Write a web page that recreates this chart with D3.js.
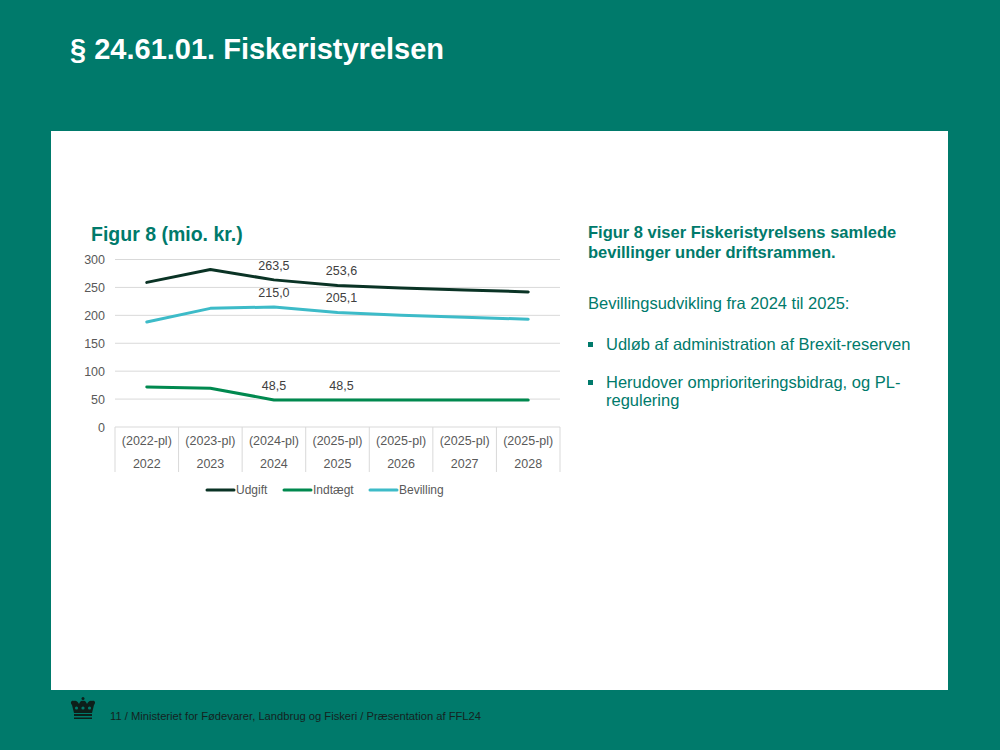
<!DOCTYPE html>
<html>
<head>
<meta charset="utf-8">
<script src="https://cdn.jsdelivr.net/npm/d3@7"></script>
<style>
  body { margin: 0; padding: 0; }
  svg { display: block; font-family: Arial, "Liberation Sans", sans-serif; }
</style>
</head>
<body>
<svg id="chart"></svg>
<script>
// data
var years    = ["2022", "2023", "2024", "2025", "2026", "2027", "2028"];
var plLabels = ["(2022-pl)", "(2023-pl)", "(2024-pl)", "(2025-pl)", "(2025-pl)", "(2025-pl)", "(2025-pl)"];
var udgift    = [259, 282, 263.5, 253.6, 249, 245.5, 242];
var indtaegt  = [71.5, 69.5, 48.5, 48.5, 48.5, 48.5, 48.5];
var bevilling = [188, 212.5, 215.0, 205.1, 200, 196.5, 193];
var yTicks = [0, 50, 100, 150, 200, 250, 300];
var labelIdx = [2, 3]; // points with data labels
var seriesNames = ["Udgift", "Indtægt", "Bevilling"];

var screen = { width: 1000, height: 750 };
var teal = "#007a6b";

var svg = d3.select("#chart")
  .attr("width", screen.width)
  .attr("height", screen.height);

// slide background
svg.append("rect")
  .attr("width", screen.width).attr("height", screen.height)
  .attr("fill", teal);

svg.append("text")
  .text("§ 24.61.01. Fiskeristyrelsen")
  .attr("x", 70).attr("y", 59)
  .attr("font-size", 29).attr("font-weight", "bold")
  .attr("fill", "white");

// white content panel
svg.append("rect")
  .attr("x", 51).attr("y", 131)
  .attr("width", 897).attr("height", 559)
  .attr("fill", "white");

// chart title
svg.append("text")
  .text("Figur 8 (mio. kr.)")
  .attr("x", 91).attr("y", 241)
  .attr("font-size", 19.5).attr("font-weight", "bold")
  .attr("fill", teal);

var plot = { left: 115, right: 560, top: 259.5, bottom: 427 };

var xScale = d3.scaleBand()
  .domain(years)
  .range([plot.left, plot.right]);

var yScale = d3.scaleLinear()
  .domain([0, 300])
  .range([plot.bottom, plot.top]);

// gridlines
svg.append("g").selectAll("line")
  .data(yTicks.filter(function(t){ return t > 0; }))
  .enter().append("line")
  .attr("x1", plot.left).attr("x2", plot.right)
  .attr("y1", function(d){ return yScale(d); })
  .attr("y2", function(d){ return yScale(d); })
  .attr("stroke", "#d9d9d9").attr("stroke-width", 1);

// y tick labels
var yAxis = d3.axisLeft(yScale).tickValues(yTicks).tickSize(0).tickPadding(10);
var yG = svg.append("g")
  .attr("transform", "translate(" + plot.left + ",0)")
  .call(yAxis);
yG.select(".domain").remove();
yG.selectAll("text")
  .attr("font-size", 12.5).attr("fill", "#595959")
  .attr("font-family", "Arial, 'Liberation Sans', sans-serif");

// category axis: baseline + separators
svg.append("line")
  .attr("x1", plot.left).attr("x2", plot.right)
  .attr("y1", plot.bottom).attr("y2", plot.bottom)
  .attr("stroke", "#d9d9d9");

var bounds = years.map(function(y){ return xScale(y); }).concat([plot.right]);
svg.append("g").selectAll("line")
  .data(bounds)
  .enter().append("line")
  .attr("x1", function(d){ return d; }).attr("x2", function(d){ return d; })
  .attr("y1", plot.bottom).attr("y2", 472)
  .attr("stroke", "#d9d9d9");

var cx = function(i){ return xScale(years[i]) + xScale.bandwidth() / 2; };

svg.append("g").selectAll("text")
  .data(plLabels)
  .enter().append("text")
  .text(function(d){ return d; })
  .attr("x", function(d, i){ return cx(i); })
  .attr("y", 445)
  .attr("text-anchor", "middle")
  .attr("font-size", 12.5).attr("fill", "#595959");

svg.append("g").selectAll("text")
  .data(years)
  .enter().append("text")
  .text(function(d){ return d; })
  .attr("x", function(d, i){ return cx(i); })
  .attr("y", 468)
  .attr("text-anchor", "middle")
  .attr("font-size", 12.5).attr("fill", "#595959");

// lines
var series = [
  { name: seriesNames[0], values: udgift,    color: "#0a3325" },
  { name: seriesNames[1], values: indtaegt,  color: "#00894f" },
  { name: seriesNames[2], values: bevilling, color: "#3dbbc8" }
];

var lineDrawer = d3.line()
  .x(function(d, i){ return cx(i); })
  .y(function(d){ return yScale(d); });

series.forEach(function(s){
  svg.append("path")
    .datum(s.values)
    .attr("d", lineDrawer)
    .attr("fill", "none")
    .attr("stroke", s.color)
    .attr("stroke-width", 3)
    .attr("stroke-linejoin", "round")
    .attr("stroke-linecap", "round");

  svg.append("g").selectAll("text")
    .data(labelIdx)
    .enter().append("text")
    .text(function(i){ return d3.format(".1f")(s.values[i]).replace(".", ","); })
    .attr("x", function(i){ return cx(i) + (i === 3 ? 4 : 0); })
    .attr("y", function(i){ return yScale(s.values[i]) - 10; })
    .attr("text-anchor", "middle")
    .attr("font-size", 12.5).attr("fill", "#404040");
});

// legend
var legendX = [207, 284, 370];
series.forEach(function(s, i){
  svg.append("line")
    .attr("x1", legendX[i]).attr("x2", legendX[i] + 27)
    .attr("y1", 490).attr("y2", 490)
    .attr("stroke", s.color).attr("stroke-width", 3)
    .attr("stroke-linecap", "round");
  svg.append("text")
    .text(s.name)
    .attr("x", legendX[i] + 29).attr("y", 494)
    .attr("font-size", 12).attr("fill", "#595959");
});

// right hand text
var rightText = svg.append("g").attr("fill", teal);
rightText.append("text").text("Figur 8 viser Fiskeristyrelsens samlede")
  .attr("x", 588).attr("y", 238).attr("font-size", 16.5).attr("font-weight", "bold");
rightText.append("text").text("bevillinger under driftsrammen.")
  .attr("x", 588).attr("y", 258).attr("font-size", 16.5).attr("font-weight", "bold");
rightText.append("text").text("Bevillingsudvikling fra 2024 til 2025:")
  .attr("x", 588).attr("y", 309).attr("font-size", 16.5);

var bullets = [["Udløb af administration af Brexit-reserven"], ["Herudover omprioriteringsbidrag, og PL-", "regulering"]];
var bulletY = [350, 388];
bullets.forEach(function(lines, i){
  rightText.append("rect")
    .attr("x", 588).attr("y", bulletY[i] - 8)
    .attr("width", 5).attr("height", 5);
  lines.forEach(function(l, j){
    rightText.append("text").text(l)
      .attr("x", 606).attr("y", bulletY[i] + j * 18)
      .attr("font-size", 16.5);
  });
});

// footer crown (rough)
var crown = svg.append("g").attr("fill", "#0d1f1a").attr("transform", "translate(70,697)");
crown.append("path")
  .attr("d", "M2,8 C0,6 1,3 4,4 C6,3 8,5 9,7 C10,4 12,3 13,4 C14,3 16,4 17,7 C18,5 20,3 22,4 C25,3 26,6 24,8 L22,16 L4,16 Z");
crown.append("rect").attr("x", 4).attr("y", 17).attr("width", 18).attr("height", 2);
crown.append("rect").attr("x", 4).attr("y", 20.5).attr("width", 18).attr("height", 1.5);
crown.append("circle").attr("cx", 13).attr("cy", 1.5).attr("r", 1.5);
crown.selectAll("circle.w").data([6.5, 13, 19.5]).enter().append("circle")
  .attr("cx", function(d){ return d; }).attr("cy", 11).attr("r", 1.6).attr("fill", teal);

svg.append("text")
  .text("11 / Ministeriet for Fødevarer, Landbrug og Fiskeri / Præsentation af FFL24")
  .attr("x", 110).attr("y", 720)
  .attr("font-size", 11.2).attr("fill", "#14231f");
</script>
</body>
</html>
